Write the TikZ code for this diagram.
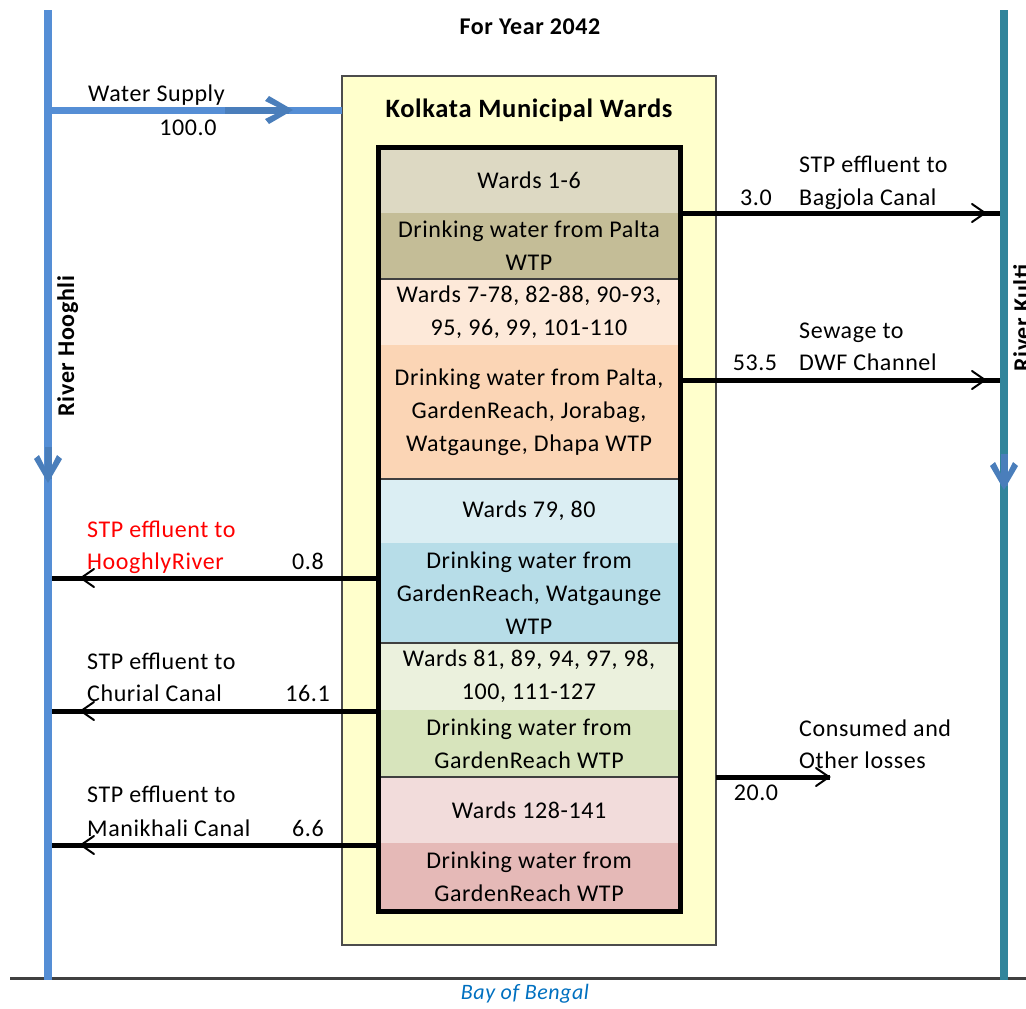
\documentclass[tikz,border=0pt]{standalone}
\usepackage{fontspec}
\setmainfont{Carlito}[LetterSpace=2.5]
\usetikzlibrary{decorations.markings,calc}
\definecolor{hoogh}{RGB}{85,142,213}
\definecolor{kulti}{RGB}{49,133,155}
\definecolor{headblue}{RGB}{74,126,187}
\definecolor{yelbox}{RGB}{255,255,204}
\definecolor{cA}{RGB}{221,217,195}
\definecolor{cB}{RGB}{196,189,151}
\definecolor{cC}{RGB}{253,233,217}
\definecolor{cD}{RGB}{251,213,181}
\definecolor{cE}{RGB}{219,238,243}
\definecolor{cF}{RGB}{183,221,232}
\definecolor{cG}{RGB}{235,241,221}
\definecolor{cH}{RGB}{215,228,188}
\definecolor{cI}{RGB}{242,220,219}
\definecolor{cJ}{RGB}{229,185,183}
\definecolor{bayblue}{RGB}{0,112,192}
\newcommand\bodyfont{\fontsize{24}{33}\selectfont}
\newcommand\bluetipshape[1]{%
  \fill[headblue] (-#1pt,3.5pt) rectangle (-4pt,-3.5pt);
  \fill[headblue] (0pt,0pt) -- (-24pt,14pt) -- (-28pt,9pt) -- (-10pt,0pt) -- (-28pt,-9pt) -- (-24pt,-14pt) -- cycle;}
\newcommand\blacktipshape{%
  \draw[line width=2pt, line cap=round] (-13pt,9pt) -- (0pt,0pt) -- (-13pt,-9pt);}
\tikzset{
  river/.style={line width=7.5pt},
  bluetip/.style 2 args={postaction={decorate,decoration={markings,mark=at position #1 with {\bluetipshape{#2}}}}},
  flow/.style={line width=5pt, postaction={decorate,decoration={markings,mark=at position #1 with {\blacktipshape}}}},
  seg/.style={anchor=north west, minimum width=302pt, inner sep=0pt, outer sep=0pt, align=center, font=\bodyfont},
  lbl/.style={font=\bodyfont, inner sep=0pt, text height=19pt, text depth=4pt},
  divider/.style={line width=1.5pt, draw=black!75},
  rlbl/.style={font=\fontsize{24}{30}\selectfont\bfseries, rotate=90, anchor=base, inner sep=0pt},
}
\begin{document}
\begin{tikzpicture}[x=1pt,y=-1pt]
\useasboundingbox (0,0) rectangle (1026,1009);
% fixed points
\coordinate (hT) at (48,10);
\coordinate (hB) at (48,980);
\coordinate (kT) at (1004,10);
\coordinate (kB) at (1004,980);
\coordinate (bL) at (10,978);
\coordinate (bR) at (1026,978);
\coordinate (ws) at (48,110);
\coordinate (kR1) at (1004,213);
\coordinate (kR2) at (1004,380);
\coordinate (hL1) at (48,578);
\coordinate (hL2) at (48,711);
\coordinate (hL3) at (48,845);
\coordinate (cons) at (830,777);

% yellow box
\node[draw=black!70, line width=1.2pt, fill=yelbox, minimum width=374pt, minimum height=869pt, anchor=north west, inner sep=0pt, outer sep=0pt] (yb) at (342,76) {};
\node[font=\fontsize{26.5}{33}\selectfont\bfseries] (title) at (529,110) {Kolkata Municipal Wards};

% segments
\node[seg, fill=cA, minimum height=66pt] (s1) at (378,147) {Wards 1-6};
\node[seg, fill=cB, minimum height=66pt] (s2) at (s1.south west) {Drinking water from Palta\\WTP};
\node[seg, fill=cC, minimum height=66pt] (s3) at (s2.south west) {Wards 7-78, 82-88, 90-93,\\95, 96, 99, 101-110};
\node[seg, fill=cD, minimum height=134pt] (s4) at (s3.south west) {Drinking water from Palta,\\GardenReach, Jorabag,\\Watgaunge, Dhapa WTP};
\node[seg, fill=cE, minimum height=64pt] (s5) at (s4.south west) {Wards 79, 80};
\node[seg, fill=cF, minimum height=100pt] (s6) at (s5.south west) {Drinking water from\\GardenReach, Watgaunge\\WTP};
\node[seg, fill=cG, minimum height=67pt] (s7) at (s6.south west) {Wards 81, 89, 94, 97, 98,\\100, 111-127};
\node[seg, fill=cH, minimum height=67pt] (s8) at (s7.south west) {Drinking water from\\GardenReach WTP};
\node[seg, fill=cI, minimum height=66pt] (s9) at (s8.south west) {Wards 128-141};
\node[seg, fill=cJ, minimum height=68pt] (s10) at (s9.south west) {Drinking water from\\GardenReach WTP};
\draw[divider] (s2.south west) -- (s2.south east);
\draw[divider] (s4.south west) -- (s4.south east);
\draw[divider] (s6.south west) -- (s6.south east);
\draw[divider] (s8.south west) -- (s8.south east);
\draw[line width=5pt] (s1.north west) rectangle (s10.south east);

% flows
\draw[flow=-19pt] (s1.south east) -- (kR1);
\draw[flow=-19pt] (s4.east |- kR2) -- (kR2);
\draw[flow=-33pt] (s6.west |- hL1) -- (hL1);
\draw[flow=-33pt] (s8.west |- hL2) -- (hL2);
\draw[flow=-33pt] (s10.west |- hL3) -- (hL3);
\draw[flow=-1pt] (yb.east |- cons) -- (cons);
\draw[line width=7pt, hoogh, bluetip={245pt}{68}] (ws) -- (yb.west |- ws);

% rivers and sea line
\draw[line width=3pt, black!75] (bL) -- (bR);
\draw[river, hoogh, bluetip={473pt}{36}] (hT) -- (hB);
\draw[river, kulti, bluetip={480pt}{36}] (kT) -- (kB);

% labels
\node[font=\fontsize{24}{30}\selectfont\bfseries] (year) at (530,27) {For Year 2042};
\node[font=\fontsize{22}{26}\selectfont\itshape, text=bayblue] (bay) at (525,994) {Bay of Bengal};
\node[rlbl] (hl) at (74,346) {River Hooghli};
\node[rlbl] (kl) at (1030,318) {River Kulti};

\node[lbl, anchor=west] (wsl) at (88,94) {Water Supply};
\node[lbl] (wsn) at (188,128) {100.0};
\node[lbl, anchor=west] (r1a) at (799,165) {STP effluent to};
\node[lbl, anchor=west] (r1b) at (799,198) {Bagjola Canal};
\node[lbl] (r1n) at (756,198) {3.0};
\node[lbl, anchor=west] (r2a) at (799,331) {Sewage to};
\node[lbl, anchor=west] (r2b) at (799,363) {DWF Channel};
\node[lbl] (r2n) at (755,363) {53.5};
\node[lbl, anchor=west, text=red] (l1a) at (87,530) {STP effluent to};
\node[lbl, anchor=west, text=red] (l1b) at (87,562) {HooghlyRiver};
\node[lbl, anchor=east] (l1n) at (324,562) {0.8};
\node[lbl, anchor=west] (l2a) at (87,662) {STP effluent to};
\node[lbl, anchor=west] (l2b) at (87,694) {Churial Canal};
\node[lbl, anchor=east] (l2n) at (330,694) {16.1};
\node[lbl, anchor=west] (l3a) at (87,795) {STP effluent to};
\node[lbl, anchor=west] (l3b) at (87,829) {Manikhali Canal};
\node[lbl, anchor=east] (l3n) at (324,829) {6.6};
\node[lbl, anchor=west] (c1) at (799,729) {Consumed and};
\node[lbl, anchor=west] (c2) at (799,761) {Other losses};
\node[lbl] (cn) at (756,793) {20.0};
\end{tikzpicture}
\end{document}
